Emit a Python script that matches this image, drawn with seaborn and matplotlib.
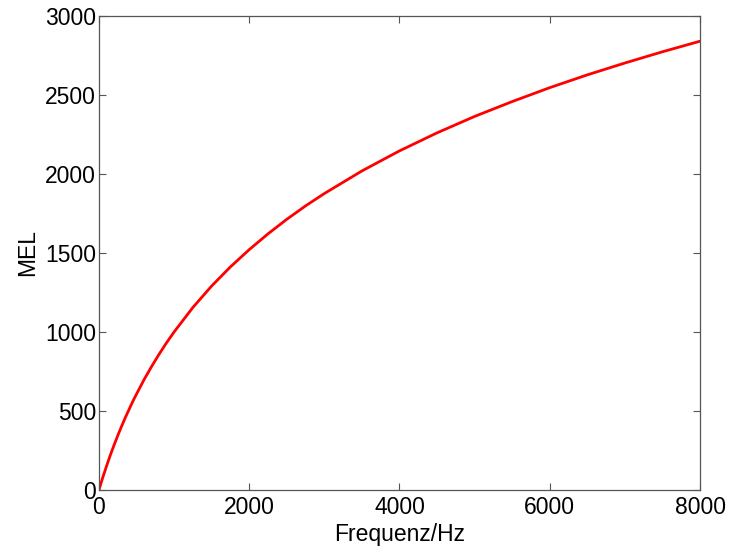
import matplotlib
matplotlib.use("Agg")
import matplotlib.pyplot as plt
import seaborn as sns
import pandas as pd

# Mel scale vs. frequency
freq_hz = [0, 50, 100, 150, 200, 250, 300, 350, 400, 450, 500, 600, 700,
           800, 900, 1000, 1250, 1500, 1750, 2000, 2250, 2500, 2750, 3000,
           3500, 4000, 4500, 5000, 5500, 6000, 6500, 7000, 7500, 8000]
mel = [0, 78, 150, 219, 283, 344, 402, 457, 509, 560, 607, 698, 781,
       859, 932, 1000, 1155, 1291, 1412, 1521, 1621, 1713, 1798, 1876,
       2019, 2146, 2260, 2364, 2458, 2546, 2627, 2702, 2773, 2840]
x_ticks = [0, 2000, 4000, 6000, 8000]
y_ticks = [0, 500, 1000, 1500, 2000, 2500, 3000]

sns.set_theme(style="white")
plt.rcParams["font.family"] = ["Liberation Sans", "DejaVu Sans"]

df = pd.DataFrame({"Frequenz/Hz": freq_hz, "MEL": mel})

fig = plt.figure(figsize=(7.33, 5.49), dpi=100)
ax = fig.add_axes([0.135, 0.1075, 0.82, 0.8635])
sns.lineplot(data=df, x="Frequenz/Hz", y="MEL", color="#ff0000",
             linewidth=2.0, ax=ax)

ax.set_xlim(0, 8000)
ax.set_ylim(0, 3000)
ax.set_xticks(x_ticks)
ax.set_yticks(y_ticks)
ax.set_xticklabels([str(t) for t in x_ticks])
ax.set_yticklabels([str(t) for t in y_ticks])

ax.tick_params(direction="in", length=5, width=0.8, color="#555555",
               top=True, right=True, bottom=True, left=True,
               labelsize=16.5, labelcolor="black")
ax.tick_params(axis="x", pad=4)
ax.tick_params(axis="y", pad=2)
for s in ax.spines.values():
    s.set_visible(True)
    s.set_color("#555555")
    s.set_linewidth(0.9)

ax.set_xlabel("Frequenz/Hz", fontsize=16.5, color="black", labelpad=3)
ax.set_ylabel("MEL", fontsize=16.5, color="black", labelpad=4)

fig.savefig("out.png", dpi=100, facecolor="white")
